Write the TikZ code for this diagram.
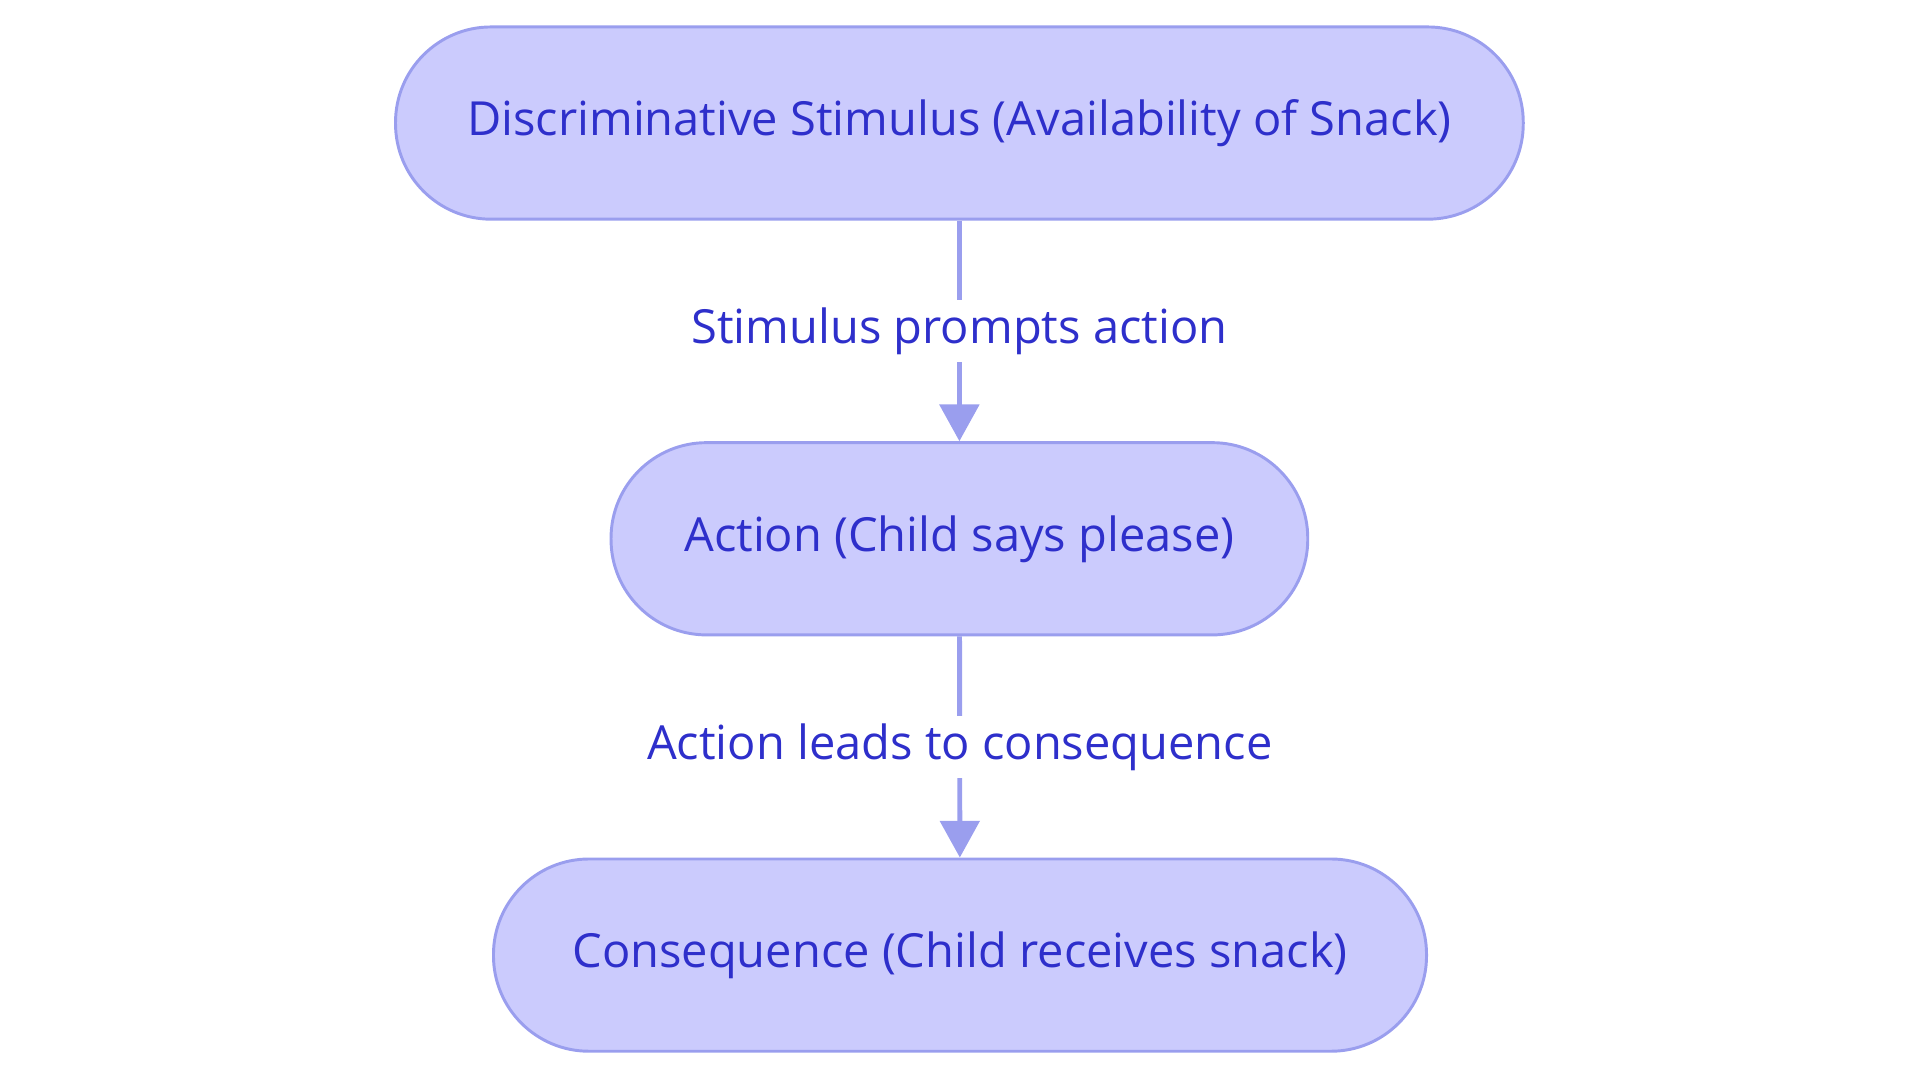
\documentclass[tikz,border=0pt]{standalone}
\usepackage{fontspec}
\setmainfont{Open Sans}
\usetikzlibrary{arrows.meta}
\definecolor{nfill}{HTML}{CBCBFD}
\definecolor{nline}{HTML}{9A9EEE}
\definecolor{ntext}{HTML}{2E2FCB}
\tikzset{
 box/.style={draw=nline, line width=1.2pt, fill=nfill, rounded corners=39pt, minimum height=78.5pt, text=ntext, font=\fontsize{19.2}{23}\selectfont},
 conn/.style={draw=nline, line width=2pt, -{Triangle[length=15pt,width=16pt]}},
 lab/.style={fill=white, text=ntext, font=\fontsize{19.2}{23}\selectfont, inner sep=3pt}
}
\begin{document}
\begin{tikzpicture}[x=0.5pt,y=-0.5pt]
\useasboundingbox (0,0) rectangle (1568,884);
\node[box, minimum width=460.5pt] (a) at (783.5,100.5) {Discriminative Stimulus (Availability of Snack)};
\node[box, minimum width=284.5pt] (b) at (783.5,440) {Action (Child says please)};
\node[box, minimum width=381pt] (c) at (784,780) {Consequence (Child receives snack)};
\draw[conn] (a) -- node[lab]{Stimulus prompts action} (b);
\draw[conn] (b) -- node[lab]{Action leads to consequence} (c);
\end{tikzpicture}
\end{document}
